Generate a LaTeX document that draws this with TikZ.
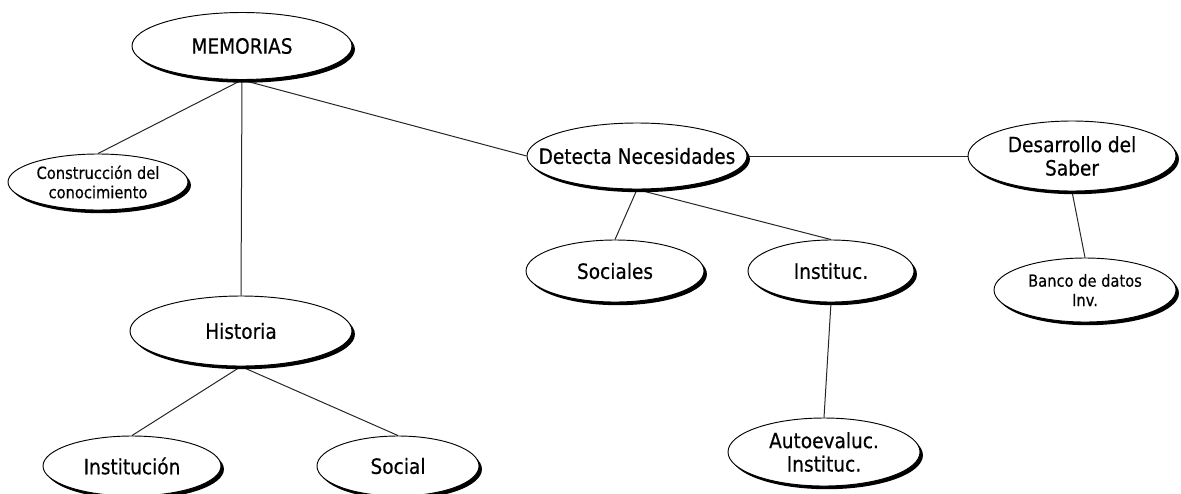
\documentclass[tikz,border=0pt]{standalone}
\usepackage{fontspec}
\setmainfont{DejaVu Sans}[FakeStretch=0.88, FakeBold=0.45]
\usetikzlibrary{shapes.geometric,shadows,backgrounds}

\tikzset{
  concept/.style={ellipse, draw=black, line width=0.7pt, fill=white,
    inner sep=0pt,
    drop shadow={shadow xshift=2.2pt, shadow yshift=-2.4pt, fill=black, opacity=1}},
  % fixed ellipse size in pixel units, text set as a centred label
  size/.style 2 args={minimum width={0.75pt*#1}, minimum height={0.75pt*#2}},
  big/.style={font=\fontsize{15.8}{17.5}\selectfont, align=center, text=black, inner sep=0pt},
  small/.style={font=\fontsize{12.5}{14.5}\selectfont, align=center, text=black, inner sep=0pt},
  link/.style={draw=black!85, line width=0.75pt}
}

\begin{document}
\begin{tikzpicture}[x=0.75pt, y=-0.75pt]
  \useasboundingbox (0,0) rectangle (1181,493);

  % concepts
  \node[concept, size={220}{67}, label={[big]center:MEMORIAS}] (mem) at (242,46) {};
  \node[concept, size={180}{56}, label={[small]center:Construcción del\\conocimiento}] (cons) at (98,182) {};
  \node[concept, size={220}{66}, label={[big]center:Detecta Necesidades}] (det) at (637,156) {};
  \node[concept, size={208}{70}, label={[big]center:Desarrollo del\\Saber}] (des) at (1072,156) {};
  \node[concept, size={182}{64}, label={[small]center:Banco de datos\\Inv.}] (banco) at (1085,290) {};
  \node[concept, size={178}{62}, label={[big]center:Sociales}] (soc) at (615,271) {};
  \node[concept, size={166}{62}, label={[big]center:Instituc.}] (inst) at (831,271) {};
  \node[concept, size={222}{70}, label={[big]center:Historia}] (hist) at (241,331) {};
  \node[concept, size={178}{60}, label={[big]center:Institución}] (instn) at (132,466) {};
  \node[concept, size={162}{60}, label={[big]center:Social}] (social) at (398,466) {};
  \node[concept, size={192}{68}, label={[big]center:Autoevaluc.\\Instituc.}] (auto) at (824,452) {};

  % connectors
  \begin{scope}[on background layer]
    \draw[link] (mem.south) -- (cons.north);
    \draw[link] (mem.south) -- (hist.north);
    \draw[link] (mem.south) -- (det.west);
    \draw[link] (det.east) -- (des.west);
    \draw[link] (det.south) -- (soc.north);
    \draw[link] (det.south) -- (inst.north);
    \draw[link] (des.south) -- (banco.north);
    \draw[link] (inst.south) -- (auto.north);
    \draw[link] (hist.south) -- (instn.north);
    \draw[link] (hist.south) -- (social.north);
  \end{scope}
\end{tikzpicture}
\end{document}
